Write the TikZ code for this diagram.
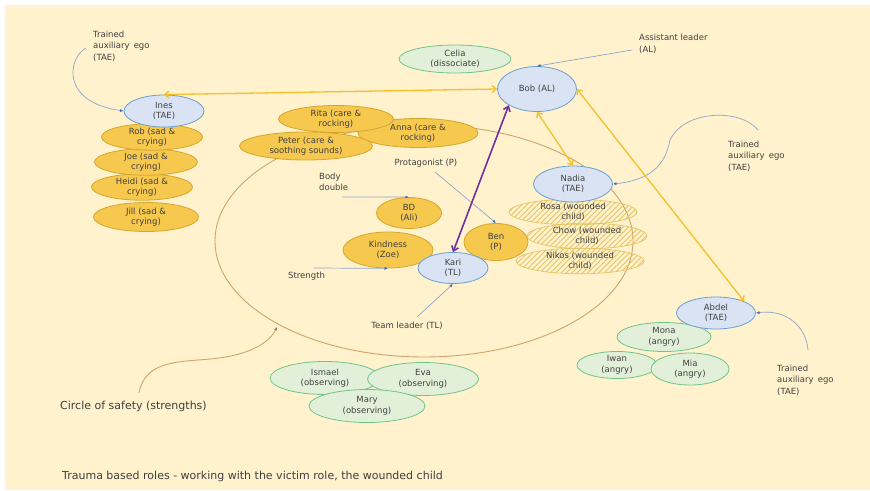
\documentclass[tikz,border=0pt]{standalone}
\usepackage{fontspec}
\setmainfont{DejaVu Sans}
\usetikzlibrary{shapes.geometric,arrows.meta,patterns.meta}

\definecolor{bg}{HTML}{FFF2CC}
\definecolor{ink}{HTML}{404040}
\definecolor{goldfill}{HTML}{F6C84E}
\definecolor{goldline}{HTML}{D6A62C}
\definecolor{bluefill}{HTML}{DAE3F3}
\definecolor{blueline}{HTML}{6A9FD4}
\definecolor{greenfill}{HTML}{E2F0D9}
\definecolor{greenline}{HTML}{70C38A}
\definecolor{hatchline}{HTML}{E6C466}
\definecolor{linkblue}{HTML}{8DA8CF}
\definecolor{tipblue}{HTML}{3A66C4}
\definecolor{yellowlink}{HTML}{F5C02A}
\definecolor{purplelink}{HTML}{7030A0}
\definecolor{safety}{HTML}{CFA36E}
\definecolor{safetytip}{HTML}{C0652A}

\tikzset{
  role/.style={ellipse, inner sep=0pt, align=center, text=ink,
    font=\fontsize{8.5}{10.5}\selectfont, line width=0.8pt},
  goldrole/.style={role, draw=goldline, fill=goldfill},
  bluerole/.style={role, draw=blueline, fill=bluefill},
  greenrole/.style={role, draw=greenline, fill=greenfill},
  hatchrole/.style={role, draw=hatchline, line width=0.7pt,
    pattern={Lines[angle=45, distance=3.8pt, line width=0.9pt]}, pattern color=hatchline},
  lbl/.style={inner sep=0pt, align=left, text=ink, font=\fontsize{8.5}{11.5}\selectfont},
  pointer/.style={draw=linkblue, line width=0.7pt, -{Latex[length=3.5pt, width=3pt, color=tipblue]}},
  yellowarrow/.style={draw=yellowlink, line width=1.3pt,
    {Straight Barb[length=4pt, width=7pt]}-{Straight Barb[length=4pt, width=7pt]}},
  purplearrow/.style={draw=purplelink, line width=1.6pt,
    {Straight Barb[length=4.5pt, width=7pt]}-{Straight Barb[length=4.5pt, width=7pt]}},
}

\begin{document}
\begin{tikzpicture}[x=1pt, y=-1pt]
  % page and canvas
  \fill[white] (0,0) rectangle (870,490);
  \fill[bg] (5,5) rectangle (870,490);
  \useasboundingbox (0,0) rectangle (870,490);

  % circle of safety
  \draw[safety, line width=0.9pt] (424,241) ellipse [x radius=209pt, y radius=116pt];

  % left group: TAE with sad & crying roles
  \node[goldrole, minimum width=105pt, minimum height=29pt] (jill)  at (146,217) {Jill (sad \&\\crying)};
  \node[goldrole, minimum width=101pt, minimum height=25pt] (heidi) at (142,187) {Heidi (sad \&\\crying)};
  \node[goldrole, minimum width=103pt, minimum height=22pt] (joe)   at (146,162) {Joe (sad \&\\crying)};
  \node[goldrole, minimum width=101pt, minimum height=21pt] (rob)   at (152,137) {Rob (sad \&\\crying)};
  \node[bluerole, minimum width=80pt, minimum height=32pt] (ines) at (164,111) {Ines\\(TAE)};

  % carers
  \node[goldrole, minimum width=120pt, minimum height=29pt] (anna)  at (418,133) {Anna (care \&\\rocking)};
  \node[goldrole, minimum width=115pt, minimum height=27pt] (rita)  at (336,119) {Rita (care \&\\rocking)};
  \node[goldrole, minimum width=133pt, minimum height=28pt] (peter) at (306,146) {Peter (care \&\\soothing sounds)};

  % top
  \node[greenrole, minimum width=112pt, minimum height=28pt] (celia) at (455,59) {Celia\\(dissociate)};
  \node[bluerole, minimum width=79pt, minimum height=45pt] (bob) at (537,89) {Bob (AL)};

  % centre
  \node[goldrole, minimum width=65pt, minimum height=31pt] (bd) at (409,213) {BD\\(Ali)};
  \node[goldrole, minimum width=90pt, minimum height=36pt] (kind) at (388,250) {Kindness\\(Zoe)};
  \node[goldrole, minimum width=64pt, minimum height=37pt] (ben) at (496,242) {Ben\\(P)};
  \node[bluerole, minimum width=70pt, minimum height=31pt] (kari) at (453,268) {Kari\\(TL)};

  % wounded children
  \node[hatchrole, minimum width=128pt, minimum height=24pt] (nikos) at (580,261) {Nikos (wounded\\child)};
  \node[hatchrole, minimum width=120pt, minimum height=23pt] (chow)  at (587,236) {Chow (wounded\\child)};
  \node[hatchrole, minimum width=128pt, minimum height=21pt] (rosa)  at (573,212) {Rosa (wounded\\child)};
  \node[bluerole, minimum width=79pt, minimum height=36pt] (nadia) at (573,184) {Nadia\\(TAE)};

  % angry group
  \node[greenrole, minimum width=94pt, minimum height=29pt] (mona) at (664,337) {Mona\\(angry)};
  \node[greenrole, minimum width=80pt, minimum height=27pt] (iwan) at (617,365) {Iwan\\(angry)};
  \node[greenrole, minimum width=78pt, minimum height=32pt] (mia)  at (690,369) {Mia\\(angry)};
  \node[bluerole, minimum width=79pt, minimum height=32pt] (abdel) at (716,313) {Abdel\\(TAE)};

  % observers
  \node[greenrole, minimum width=110pt, minimum height=33pt] (ismael) at (325,378) {Ismael\\(observing)};
  \node[greenrole, minimum width=111pt, minimum height=33pt] (eva)    at (423,379) {Eva\\(observing)};
  \node[greenrole, minimum width=116pt, minimum height=33pt] (mary)   at (367,406) {Mary\\(observing)};

  % labels
  \node[lbl, anchor=west] (taeA) at (93,46) {Trained\\auxiliary\, ego\\(TAE)};
  \node[lbl, anchor=west] (al) at (639,44) {Assistant leader\\(AL)};
  \node[lbl, anchor=west] (taeB) at (728,156) {Trained\\auxiliary\, ego\\(TAE)};
  \node[lbl, anchor=west] (taeC) at (777,380) {Trained\\auxiliary\, ego\\(TAE)};
  \node[lbl, anchor=west] (body) at (319,182) {Body\\double};
  \node[lbl] (prot) at (426,163) {Protagonist (P)};
  \node[lbl, anchor=west] (strength) at (288,276) {Strength};
  \node[lbl] (tl) at (407,326) {Team leader (TL)};
  \node[lbl, anchor=west, font=\fontsize{11}{13}\selectfont] (cos) at (60,406) {Circle of safety (strengths)};
  \node[lbl, anchor=west, font=\fontsize{11}{13}\selectfont] (title) at (62,476)
    {Trauma based roles - working with the victim role, the wounded child};

  % tails of the pointers
  \coordinate (taeAtail) at (86,48);
  \coordinate (altail) at (632,50);
  \coordinate (taeBtail) at (758,130);
  \coordinate (taeCtail) at (808,350);
  \coordinate (bodytail) at (342,197);
  \coordinate (prottail) at (435,172);
  \coordinate (strtail) at (314,268);
  \coordinate (tltail) at (417,317);
  \coordinate (costail) at (139,393);
  \coordinate (cosend) at (277,327);

  % blue pointers
  \draw[pointer] (taeAtail) .. controls (68,58) and (60,102) .. (ines.west);
  \draw[pointer] (altail) -- (bob.north);
  \draw[pointer] (taeBtail) .. controls (740,108) and (684,110) .. (670,140)
                 .. controls (665,166) and (650,180) .. (nadia.east);
  \draw[pointer] (taeCtail) .. controls (806,326) and (786,309) .. (abdel.east);
  \draw[pointer] (bodytail) -- (bd.north);
  \draw[pointer] (prottail) -- (ben.north);
  \draw[pointer] (strtail) -- (kind.south);
  \draw[pointer] (tltail) -- (kari.south);

  % circle of safety pointer
  \draw[safety, line width=0.9pt, -{Latex[length=3.5pt, width=3pt, color=safetytip]}]
    (costail) .. controls (145,360) and (180,362) .. (210,359)
    .. controls (245,356) and (268,345) .. (cosend);

  % links between the leaders
  \draw[yellowarrow] (ines.north) -- (bob.west);
  \draw[yellowarrow] (bob.south) -- (nadia.north);
  \draw[yellowarrow] (bob.east) -- (abdel.north east);
  \draw[purplearrow] (bob.south west) -- (kari.north);
\end{tikzpicture}
\end{document}
